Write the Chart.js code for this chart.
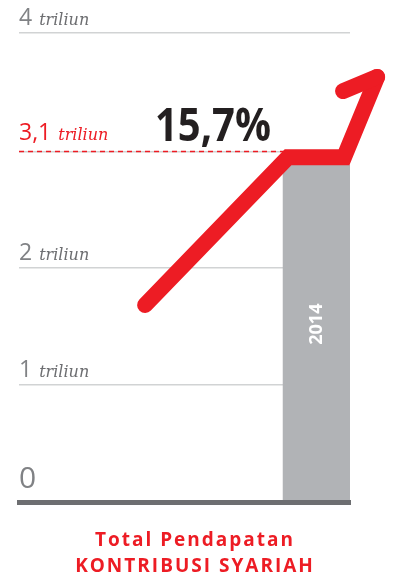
<!DOCTYPE html>
<html>
<head>
<meta charset="utf-8">
<script src="https://cdn.jsdelivr.net/npm/chart.js@4"></script>
<style>
  html, body { margin: 0; padding: 0; background: #fff; }
  canvas { display: block; }
</style>
</head>
<body>
<canvas id="chart" width="409" height="578"></canvas>
<script>
// bar category and value (triliun)
const categories = ['2014'];
const barX = [89.9];
const barValues = [2.874];

// y axis ticks
const yTickValues = [0, 1, 2, 2.99, 4];
const yTickLabels = ['0', '1', '2', '3,1', '4'];
const unitLabel = 'triliun';
const highlightTick = '3,1';

// growth arrow path (chart units)
const arrowX = [38.1, 81.3, 98.2, 108.2];
const arrowY = [1.68, 2.94, 2.94, 3.625];
const arrowHeadX = [97.9, 108.2, 111.2];
const arrowHeadY = [3.505, 3.625, 3.352];

// dashed marker line at 3,1 triliun
const markerX = [0, 80.4];
const markerY = [2.99, 2.99];

const growthLabel = '15,7%';
const titleLines = ['Total Pendapatan', 'KONTRIBUSI SYARIAH'];

const RED = '#ed1c24';
const GREY_TEXT = '#808285';

function toPoints(xs, ys) {
    return xs.map((x, i) => ({ x, y: ys[i] }));
}

const lineStyle = {
    type: 'line',
    borderColor: RED,
    pointRadius: 0,
    fill: false,
    tension: 0,
    clip: false
};

const textPlugin = {
    id: 'textPlugin',
    afterDatasetsDraw(chart) {
        const { ctx, chartArea } = chart;
        const y = chart.scales.y;
        ctx.save();
        ctx.textAlign = 'left';
        ctx.textBaseline = 'alphabetic';

        // axis labels: number + italic unit
        yTickValues.forEach((v, i) => {
            const text = yTickLabels[i];
            const py = y.getPixelForValue(v);
            const isZero = v === 0;
            const isHi = text === highlightTick;
            ctx.font = isZero ? '30px "Open Sans"' : '23px "Open Sans"';
            ctx.fillStyle = isHi ? RED : GREY_TEXT;
            const base = py - (isZero ? 14 : (isHi ? 11 : 8));
            ctx.fillText(text, chartArea.left, base);
            if (!isZero) {
                const w = ctx.measureText(text).width;
                ctx.font = 'italic 16px "DejaVu Serif"';
                ctx.fillStyle = isHi ? RED : '#6d6e71';
                ctx.fillText(unitLabel, chartArea.left + w + 7, base);
            }
        });

        // growth percentage
        ctx.font = 'bold 46px "Open Sans"';
        ctx.fillStyle = '#231f20';
        ctx.fillText(growthLabel, chartArea.left + 136, y.getPixelForValue(markerY[0]) - 10, 116);

        // year inside the bar
        const bar = chart.getDatasetMeta(0).data[0];
        ctx.save();
        ctx.translate(bar.x, (bar.y + bar.base) / 2 - 9);
        ctx.rotate(-Math.PI / 2);
        ctx.textAlign = 'center';
        ctx.textBaseline = 'middle';
        ctx.font = 'bold 18px "Open Sans"';
        ctx.fillStyle = '#ffffff';
        ctx.fillText(categories[0], 0, 0);
        ctx.restore();

        // title below chart
        ctx.font = 'bold 19px "Open Sans"';
        ctx.fillStyle = RED;
        ctx.textAlign = 'center';
        ctx.letterSpacing = '2px';
        ctx.fillText(titleLines[0], 195, 546);
        ctx.fillText(titleLines[1], 195, 572);
        ctx.restore();
    }
};

new Chart(document.getElementById('chart'), {
    type: 'line',
    data: {
        datasets: [
            {
                type: 'bar',
                label: categories[0],
                data: toPoints(barX, barValues),
                backgroundColor: '#b1b3b6',
                barThickness: 67,
                order: 3
            },
            {
                ...lineStyle,
                data: toPoints(markerX, markerY),
                borderWidth: 1.5,
                borderDash: [5, 4],
                order: 2
            },
            {
                ...lineStyle,
                data: toPoints(arrowX, arrowY),
                borderWidth: 16,
                borderCapStyle: 'round',
                borderJoinStyle: 'miter',
                order: 1
            },
            {
                ...lineStyle,
                data: toPoints(arrowHeadX, arrowHeadY),
                borderWidth: 16,
                borderCapStyle: 'round',
                borderJoinStyle: 'round',
                order: 0
            }
        ]
    },
    options: {
        responsive: false,
        animation: false,
        devicePixelRatio: 1,
        layout: { padding: { left: 19, right: 59, top: 33, bottom: 76 } },
        plugins: {
            legend: { display: false },
            tooltip: { enabled: false }
        },
        scales: {
            x: {
                type: 'linear',
                min: 0,
                max: 100,
                offset: false,
                ticks: { display: false },
                grid: { display: false, drawTicks: false },
                border: { display: true, color: '#6d6e71', width: 5, z: 1 }
            },
            y: {
                type: 'linear',
                min: 0,
                max: 4,
                afterBuildTicks: (scale) => {
                    scale.ticks = yTickValues.map(v => ({ value: v }));
                },
                ticks: { display: false },
                grid: {
                    drawTicks: false,
                    lineWidth: 1.5,
                    color: (c) => (c.tick && c.tick.value === 0) ? 'rgba(0,0,0,0)' : '#d1d3d4'
                },
                border: { display: false }
            }
        }
    },
    plugins: [textPlugin]
});
</script>
</body>
</html>
